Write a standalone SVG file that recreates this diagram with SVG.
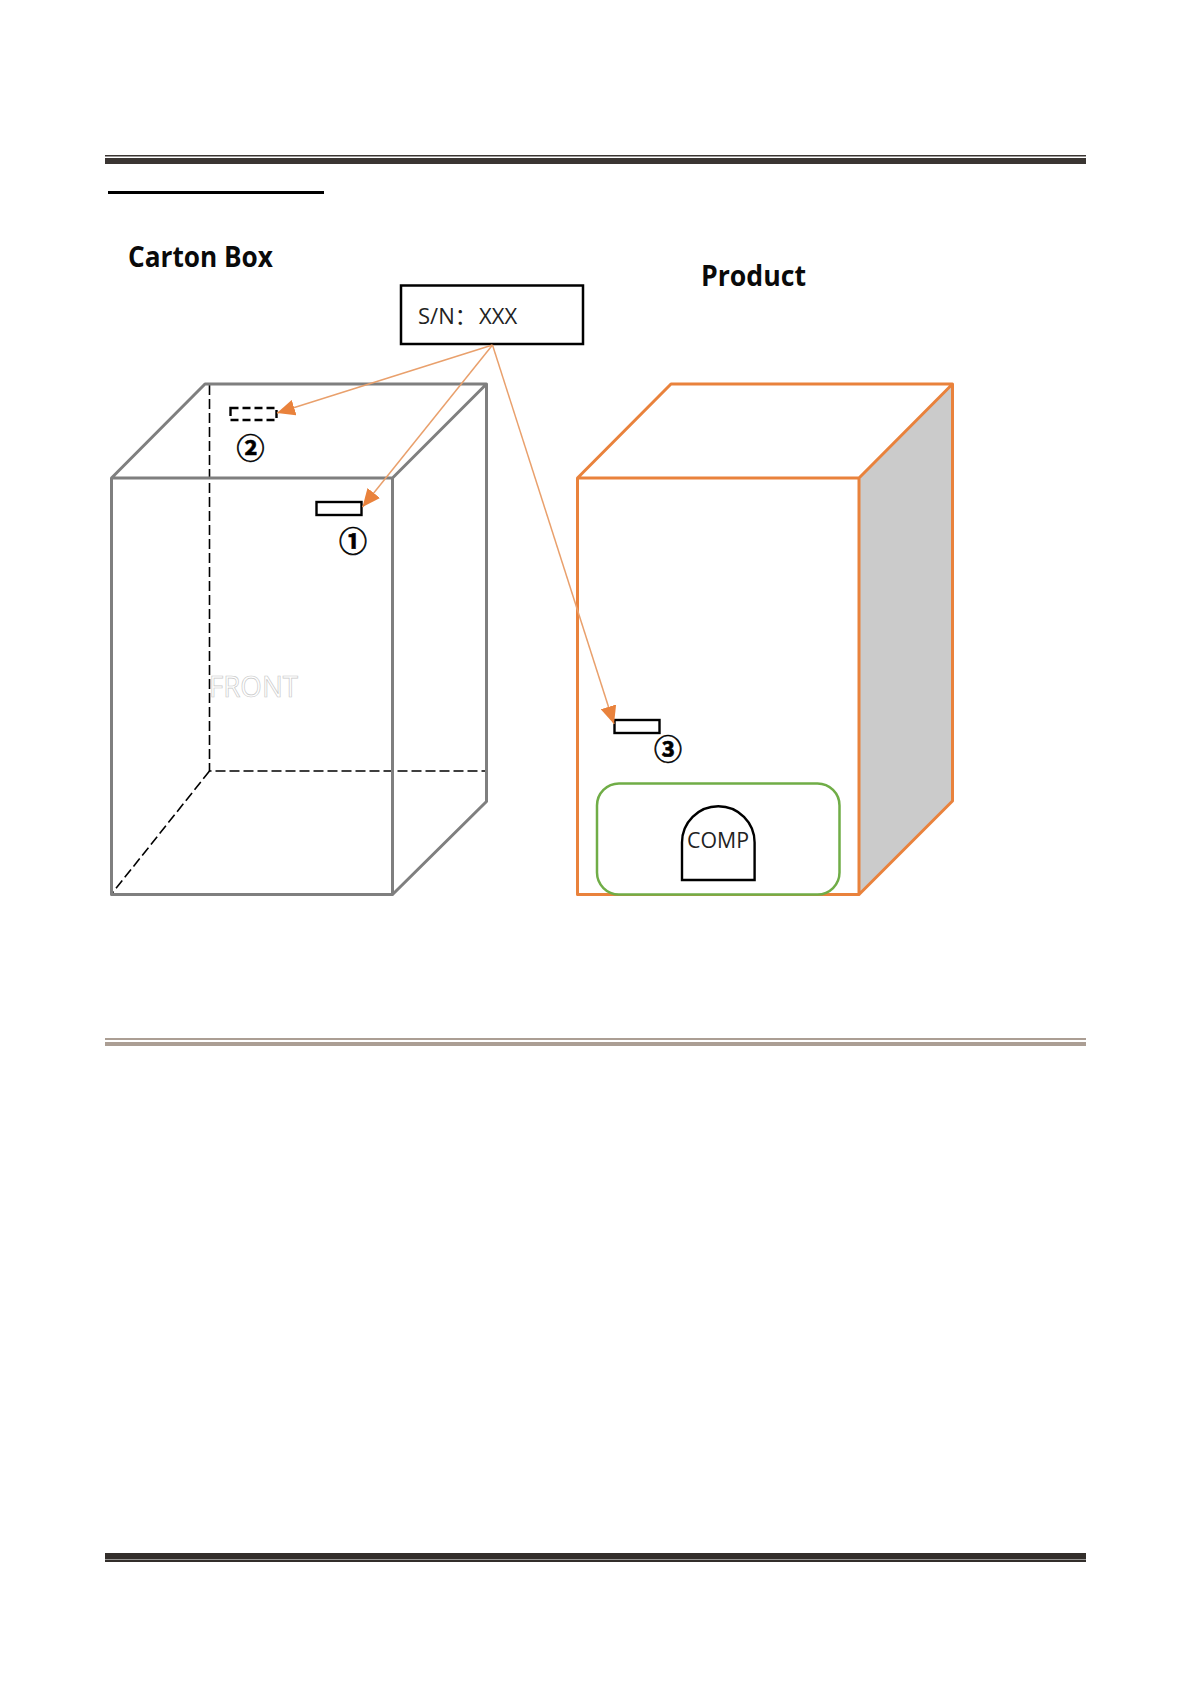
<svg xmlns="http://www.w3.org/2000/svg" width="1191" height="1684" viewBox="0 0 1191 1684">
<style>
.t{font-family:"Open Sans","Noto Sans CJK SC",sans-serif;fill:#222}
.h{font-family:"Open Sans",sans-serif;font-weight:700;font-size:28px;fill:#0a0a0a}
.c{font-family:"Noto Sans CJK SC","DejaVu Sans",sans-serif;font-weight:700;font-size:28px;fill:#000;stroke:#000;stroke-width:0.6;text-anchor:middle}
.g{fill:none;stroke:#7f7f7f;stroke-width:3;stroke-linejoin:round}
.o{fill:none;stroke:#e9823c;stroke-width:3;stroke-linejoin:round}
.d{fill:none;stroke:#000;stroke-width:1.6;stroke-dasharray:10 4}
.k{fill:#fff;stroke:#000;stroke-width:2.4}
.a{stroke:#e9a06c;stroke-width:1.5;fill:none;marker-end:url(#ah)}
</style>
<defs><marker id="ah" markerUnits="userSpaceOnUse" markerWidth="19" markerHeight="16" refX="18" refY="8" orient="auto"><path d="M0 0L18 8L0 16Z" fill="#e9823c"/></marker></defs>
<rect width="1191" height="1684" fill="#fff"/>
<g id="rules">
<rect x="105" y="155" width="981" height="1.5" fill="#3a3532"/>
<rect x="105" y="158" width="981" height="6" fill="#3a3532"/>
<rect x="108" y="191" width="216" height="3" fill="#000"/>
<rect x="105" y="1038" width="981" height="2" fill="#ab9e94"/>
<rect x="105" y="1042" width="981" height="4" fill="#ab9e94"/>
<rect x="105" y="1553" width="981" height="6.500" fill="#332e2b"/>
<rect x="105" y="1560" width="981" height="2" fill="#332e2b"/>
</g>
<g id="carton-title"><text class="h" x="128" y="267" textLength="145" lengthAdjust="spacingAndGlyphs">Carton Box</text></g>
<g id="product-title"><text class="h" x="701" y="286" textLength="105" lengthAdjust="spacingAndGlyphs">Product</text></g>
<g id="carton-box">
<path class="d" d="M209.500 385V771H487"/>
<path class="d" d="M209.500 771L111.500 894"/>
<path class="g" d="M111.500 478H392.500V894.500H111.500ZM111.500 478L205 384H486.500V801.500L392.500 894.500M392.500 478L486.500 384"/>
<text x="209" y="697" font-family="'Open Sans',sans-serif" font-size="30" fill="#fff" stroke="#c8c8c8" stroke-width="0.7" textLength="89" lengthAdjust="spacingAndGlyphs">FRONT</text>
</g>
<g id="product-box">
<path d="M859 478L952.500 384V801L859 894Z" fill="#cbcbcb"/>
<path class="o" d="M577.500 478H859V894.500H577.500ZM577.500 478L671 384H952.500V801L859 894.500M859 478L952.500 384"/>
</g>
<g id="comp-area">
<rect x="597" y="783.500" width="242.500" height="111" rx="22" fill="#fff" stroke="#70ad47" stroke-width="2.500"/>
</g>
<g id="comp">
<path class="k" d="M682 880V842.500A36.300 36.300 0 0 1 754.600 842.500V880Z"/>
<text class="t" x="718" y="848" font-size="22" text-anchor="middle" textLength="62" lengthAdjust="spacingAndGlyphs">COMP</text>
</g>
<g id="sn-label">
<rect x="401" y="285.500" width="182" height="58.500" fill="#fff" stroke="#000" stroke-width="2.500"/>
<text class="t" x="418" y="323.500" font-size="22">S/N：<tspan x="479">XXX</tspan></text>
</g>
<g id="label-1"><rect class="k" x="316.500" y="502" width="45" height="13"/><text class="c" x="353" y="552">①</text></g>
<g id="label-2"><rect x="230.500" y="408" width="46" height="12" fill="#fff" stroke="#000" stroke-width="2.400" stroke-dasharray="8 4"/><text class="c" x="250.500" y="459">②</text></g>
<g id="label-3"><rect class="k" x="614.500" y="720" width="45" height="13"/><text class="c" x="668" y="760">③</text></g>
<g id="connectors">
<path class="a" d="M492.500 345L277 413"/>
<path class="a" d="M492.500 345L362.500 507"/>
<path class="a" d="M492.500 345L614 724"/>
</g>
</svg>
